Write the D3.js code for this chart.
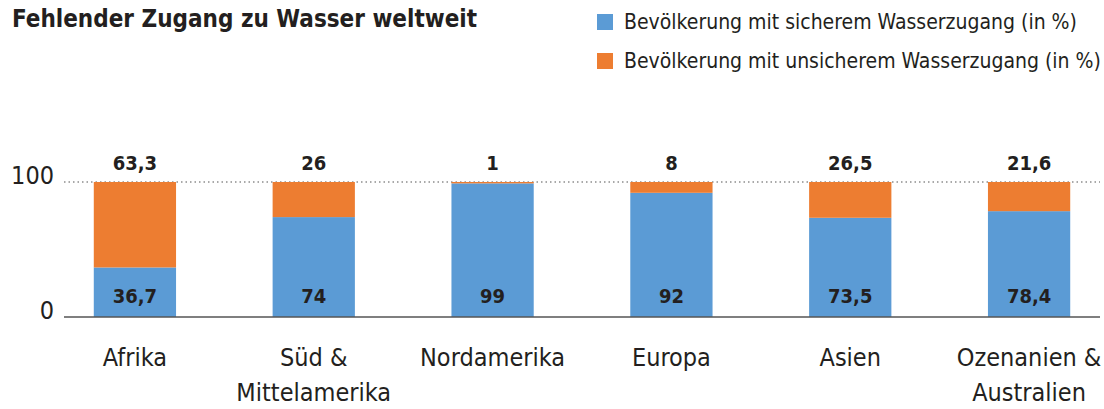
<!DOCTYPE html>
<html>
<head>
<meta charset="utf-8">
<script src="https://cdn.jsdelivr.net/npm/d3@7"></script>
<style>
  body { margin: 0; background: #fff; }
  svg { display: block; font-family: "DejaVu Sans Condensed", "DejaVu Sans", sans-serif; }
</style>
</head>
<body>
<svg id="chart"></svg>
<script>
const categories = [["Afrika"], ["Süd &", "Mittelamerika"], ["Nordamerika"], ["Europa"], ["Asien"], ["Ozenanien &", "Australien"]];
const secure = [36.7, 74, 99, 92, 73.5, 78.4];
const insecure = [63.3, 26, 1, 8, 26.5, 21.6];
const seriesNames = ["Bevölkerung mit sicherem Wasserzugang (in %)", "Bevölkerung mit unsicherem Wasserzugang (in %)"];
const yTicks = [0, 100];

const width = 1104, height = 409;
const colors = ["#5b9bd5", "#ed7d31"];
const fmt = v => String(v).replace(".", ",");

const svg = d3.select("#chart").attr("width", width).attr("height", height);

svg.append("text")
    .attr("x", 12).attr("y", 27)
    .style("font-size", "24px").style("font-weight", "bold").attr("fill", "#231f20")
    .text("Fehlender Zugang zu Wasser weltweit");

const legend = svg.append("g").attr("transform", "translate(597, 14)");
seriesNames.forEach((name, i) => {
    const g = legend.append("g").attr("transform", `translate(0, ${i * 39})`);
    g.append("rect").attr("width", 16).attr("height", 16).attr("fill", colors[i]);
    g.append("text").attr("x", 27).attr("y", 8).attr("dy", "0.35em")
        .style("font-size", "21px").attr("fill", "#231f20").text(name);
});

const data = categories.map((c, i) => ({ key: c.join(" "), label: c, secure: secure[i], insecure: insecure[i] }));

const xscale = d3.scaleBand()
    .domain(data.map(d => d.key))
    .range([45.5, 1118.5])
    .paddingInner(0.54)
    .paddingOuter(0.27);

const yscale = d3.scaleLinear().domain([0, 100]).range([317, 182]);

// dotted 100 line
svg.append("line")
    .attr("x1", 64).attr("x2", 1100)
    .attr("y1", yscale(100)).attr("y2", yscale(100))
    .attr("stroke", "#555").attr("stroke-width", 1.2).attr("stroke-dasharray", "1.5,3");

const stack = d3.stack().keys(["secure", "insecure"])(data);

svg.append("g").selectAll("g")
    .data(stack)
    .join("g")
    .attr("fill", (d, i) => colors[i])
    .selectAll("rect")
    .data(d => d)
    .join("rect")
    .attr("x", d => xscale(d.data.key))
    .attr("y", d => yscale(d[1]))
    .attr("width", xscale.bandwidth())
    .attr("height", d => yscale(d[0]) - yscale(d[1]));

// baseline
svg.append("line")
    .attr("x1", 64).attr("x2", 1100)
    .attr("y1", yscale(0)).attr("y2", yscale(0))
    .attr("stroke", "#555").attr("stroke-width", 1.5);

// y tick labels
svg.append("g").selectAll("text")
    .data(yTicks)
    .join("text")
    .attr("x", 54).attr("y", d => yscale(d) + 2)
    .attr("text-anchor", "end")
    .style("font-size", "25px").attr("fill", "#231f20")
    .text(d => d);

// value labels
const labels = svg.append("g").style("font-size", "20px").style("font-weight", "bold")
    .attr("fill", "#231f20").attr("text-anchor", "middle");
labels.selectAll(".top")
    .data(data).join("text").attr("class", "top")
    .attr("x", d => xscale(d.key) + xscale.bandwidth() / 2)
    .attr("y", yscale(100) - 19).attr("dy", "0.35em")
    .text(d => fmt(d.insecure));
labels.selectAll(".bottom")
    .data(data).join("text").attr("class", "bottom")
    .attr("x", d => xscale(d.key) + xscale.bandwidth() / 2)
    .attr("y", yscale(0) - 21).attr("dy", "0.35em")
    .text(d => fmt(d.secure));

// category labels
const cat = svg.append("g").style("font-size", "25px").attr("fill", "#231f20").attr("text-anchor", "middle");
cat.selectAll("text")
    .data(data).join("text")
    .attr("x", d => xscale(d.key) + xscale.bandwidth() / 2)
    .attr("y", 357)
    .each(function (d) {
        d3.select(this).selectAll("tspan")
            .data(d.label).join("tspan")
            .attr("x", xscale(d.key) + xscale.bandwidth() / 2)
            .attr("dy", (l, i) => i === 0 ? "0.35em" : "1.4em")
            .text(l => l);
    });
</script>
</body>
</html>
